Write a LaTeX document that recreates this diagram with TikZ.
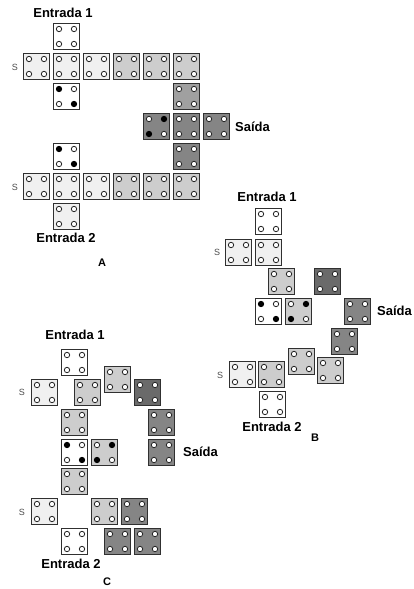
\documentclass[tikz,border=0pt]{standalone}
\usepackage{fontspec}
\setmainfont{Liberation Sans}
\definecolor{vlight}{HTML}{F0F0F0}
\definecolor{lgray}{HTML}{CDCDCD}
\definecolor{mgray}{HTML}{A0A0A0}
\definecolor{dgray}{HTML}{858585}
\definecolor{dark}{HTML}{6A6A6A}
\definecolor{edge}{HTML}{303030}
\tikzset{
  cellbox/.style={draw=edge, line width=1.2pt, minimum width=26pt, minimum height=26pt, inner sep=0pt, outer sep=0pt},
  dotw/.style={draw=black!85, line width=0.8pt, fill=white},
  dotb/.style={draw=black, line width=0.8pt, fill=black},
  biglabel/.style={font=\bfseries\fontsize{13}{15}\selectfont, inner sep=0pt},
  letterlabel/.style={font=\bfseries\fontsize{11}{13}\selectfont, inner sep=0pt},
  slabel/.style={font=\fontsize{9}{10}\selectfont, text=black!70, inner sep=0pt}
}
% name, x, y (top-left), fill, TL, TR, BL, BR dot styles
\newcommand{\cel}[8]{%
  \node[cellbox, fill=#4] (#1) at (#2+13.5,#3+13.5) {};
  \draw[#5] ([xshift=-7.5pt,yshift=7.5pt]#1.center) circle (2.7pt);
  \draw[#6] ([xshift=7.5pt,yshift=7.5pt]#1.center) circle (2.7pt);
  \draw[#7] ([xshift=-7.5pt,yshift=-7.5pt]#1.center) circle (2.7pt);
  \draw[#8] ([xshift=7.5pt,yshift=-7.5pt]#1.center) circle (2.7pt);
}
\begin{document}
\begin{tikzpicture}[x=1pt,y=-1pt]
\useasboundingbox[fill=white] (0,0) rectangle (413,589);
% ---------------- A ----------------
\node[biglabel] (ae1) at (63,13) {Entrada 1};
\cel{a1}{53}{23}{white}{dotw}{dotw}{dotw}{dotw}
\cel{a2}{23}{53}{vlight}{dotw}{dotw}{dotw}{dotw}
\cel{a3}{53}{53}{vlight}{dotw}{dotw}{dotw}{dotw}
\cel{a4}{83}{53}{vlight}{dotw}{dotw}{dotw}{dotw}
\cel{a5}{113}{53}{lgray}{dotw}{dotw}{dotw}{dotw}
\cel{a6}{143}{53}{lgray}{dotw}{dotw}{dotw}{dotw}
\cel{a7}{173}{53}{lgray}{dotw}{dotw}{dotw}{dotw}
\node[slabel] (as1) at (15,67) {S};
\cel{a8}{53}{83}{white}{dotb}{dotw}{dotw}{dotb}
\cel{a9}{173}{83}{mgray}{dotw}{dotw}{dotw}{dotw}
\cel{a10}{143}{113}{dgray}{dotw}{dotb}{dotb}{dotw}
\cel{a11}{173}{113}{dgray}{dotw}{dotw}{dotw}{dotw}
\cel{a12}{203}{113}{dgray}{dotw}{dotw}{dotw}{dotw}
\node[biglabel, anchor=west] (asa) at (235,127) {Saída};
\cel{a13}{53}{143}{white}{dotb}{dotw}{dotw}{dotb}
\cel{a14}{173}{143}{dgray}{dotw}{dotw}{dotw}{dotw}
\cel{a15}{23}{173}{vlight}{dotw}{dotw}{dotw}{dotw}
\cel{a16}{53}{173}{vlight}{dotw}{dotw}{dotw}{dotw}
\cel{a17}{83}{173}{vlight}{dotw}{dotw}{dotw}{dotw}
\cel{a18}{113}{173}{lgray}{dotw}{dotw}{dotw}{dotw}
\cel{a19}{143}{173}{lgray}{dotw}{dotw}{dotw}{dotw}
\cel{a20}{173}{173}{lgray}{dotw}{dotw}{dotw}{dotw}
\node[slabel] (as2) at (15,187) {S};
\cel{a21}{53}{203}{vlight}{dotw}{dotw}{dotw}{dotw}
\node[biglabel] (ae2) at (66,238) {Entrada 2};
\node[letterlabel] (al) at (102,263) {A};
% ---------------- B ----------------
\node[biglabel] (be1) at (267,197) {Entrada 1};
\cel{b1}{255}{208}{white}{dotw}{dotw}{dotw}{dotw}
\cel{b2}{225}{239}{vlight}{dotw}{dotw}{dotw}{dotw}
\cel{b3}{255}{239}{vlight}{dotw}{dotw}{dotw}{dotw}
\node[slabel] (bs1) at (217,252) {S};
\cel{b4}{268}{268}{lgray}{dotw}{dotw}{dotw}{dotw}
\cel{b5}{314}{268}{dark}{dotw}{dotw}{dotw}{dotw}
\cel{b6}{255}{298}{white}{dotb}{dotw}{dotw}{dotb}
\cel{b7}{285}{298}{lgray}{dotw}{dotb}{dotb}{dotw}
\cel{b8}{344}{298}{dgray}{dotw}{dotw}{dotw}{dotw}
\node[biglabel, anchor=east] (bsa) at (412,311) {Saída};
\cel{b9}{331}{328}{dgray}{dotw}{dotw}{dotw}{dotw}
\cel{b10}{288}{348}{lgray}{dotw}{dotw}{dotw}{dotw}
\cel{b11}{317}{357}{lgray}{dotw}{dotw}{dotw}{dotw}
\cel{b12}{229}{361}{vlight}{dotw}{dotw}{dotw}{dotw}
\cel{b13}{258}{361}{lgray}{dotw}{dotw}{dotw}{dotw}
\node[slabel] (bs2) at (220,375) {S};
\cel{b14}{259}{391}{white}{dotw}{dotw}{dotw}{dotw}
\node[biglabel] (be2) at (272,427) {Entrada 2};
\node[letterlabel] (bl) at (315,438) {B};
% ---------------- C ----------------
\node[biglabel] (ce1) at (75,335) {Entrada 1};
\cel{c1}{61}{349}{white}{dotw}{dotw}{dotw}{dotw}
\cel{c4}{104}{366}{lgray}{dotw}{dotw}{dotw}{dotw}
\cel{c2}{31}{379}{vlight}{dotw}{dotw}{dotw}{dotw}
\cel{c3}{74}{379}{lgray}{dotw}{dotw}{dotw}{dotw}
\cel{c5}{134}{379}{dark}{dotw}{dotw}{dotw}{dotw}
\node[slabel] (cs1) at (22,392) {S};
\cel{c6}{61}{409}{lgray}{dotw}{dotw}{dotw}{dotw}
\cel{c7}{148}{409}{dgray}{dotw}{dotw}{dotw}{dotw}
\cel{c8}{61}{439}{white}{dotb}{dotw}{dotw}{dotb}
\cel{c9}{91}{439}{lgray}{dotw}{dotb}{dotb}{dotw}
\cel{c10}{148}{439}{dgray}{dotw}{dotw}{dotw}{dotw}
\node[biglabel, anchor=west] (csa) at (183,452) {Saída};
\cel{c11}{61}{468}{lgray}{dotw}{dotw}{dotw}{dotw}
\cel{c12}{31}{498}{vlight}{dotw}{dotw}{dotw}{dotw}
\cel{c13}{91}{498}{lgray}{dotw}{dotw}{dotw}{dotw}
\cel{c14}{121}{498}{dgray}{dotw}{dotw}{dotw}{dotw}
\node[slabel] (cs2) at (22,512) {S};
\cel{c15}{61}{528}{white}{dotw}{dotw}{dotw}{dotw}
\cel{c16}{104}{528}{dgray}{dotw}{dotw}{dotw}{dotw}
\cel{c17}{134}{528}{dgray}{dotw}{dotw}{dotw}{dotw}
\node[biglabel] (ce2) at (71,564) {Entrada 2};
\node[letterlabel] (cl) at (107,582) {C};
\end{tikzpicture}
\end{document}
